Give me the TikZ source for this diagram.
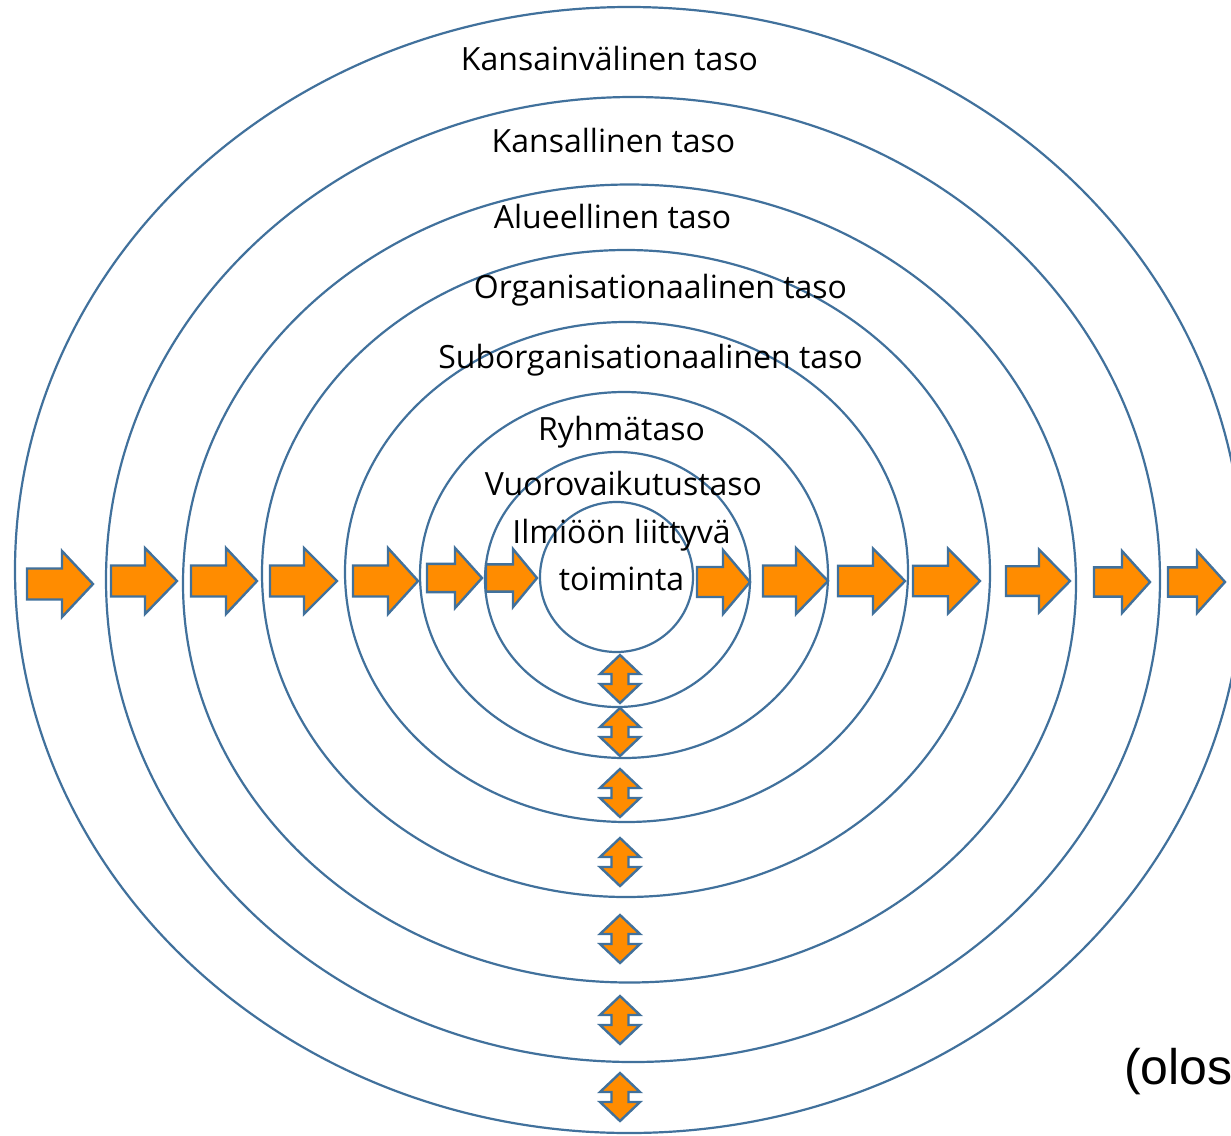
\documentclass[tikz,border=0pt]{standalone}
\usepackage{fontspec}
\setmainfont{Open Sans}
\newfontfamily\notefont{Liberation Sans}
\definecolor{ringblue}{HTML}{41719C}
\definecolor{arrorange}{HTML}{FF8C00}
\tikzset{
  ring/.style={draw=ringblue, line width=2.2pt},
  blockarr/.style={draw=ringblue, fill=arrorange, line width=2.4pt, line join=miter},
  lbl/.style={anchor=base, inner sep=0pt, font=\fontsize{32}{36}\selectfont}
}
\begin{document}
\begin{tikzpicture}[x=1pt,y=-1pt]
	\useasboundingbox[fill=white] (0,0) rectangle (1231,1135);
	% tasot sisimmasta uloimpaan
	\foreach \cx/\cy/\rx/\ry in {616.5/577/76.5/75, 617.5/579.5/132.5/127.5, 624/575/204/183,
	    626.5/572/281.5/250, 626/573.5/364/323.5, 629.5/583.5/446.5/399,
	    633/579.5/527/482.5, 629/570/614/563}
		\draw[ring] (\cx,\cy) ellipse [x radius=\rx pt, y radius=\ry pt];
	% vaakanuolet
	\foreach \a/\b/\c/\m/\h in {27/62/93/584/33, 111/145/177/581/33, 191/226/257/581/33,
	    270/304/337/581/33, 353/388/418/581/33, 427/455/482/578/30, 486/513/537/578/29,
	    697/723/750/582/32, 763/796/828/581/33, 838/873/905/581/32.5, 913/948/980/581/32.5,
	    1006/1039/1070/581/31.5, 1094/1122/1150/582/31, 1168/1197/1225/582/31}
		\draw[blockarr] (\a,{\m-0.47*\h}) -- (\b,{\m-0.47*\h}) -- (\b,{\m-\h}) -- (\c,\m)
			-- (\b,{\m+\h}) -- (\b,{\m+0.47*\h}) -- (\a,{\m+0.47*\h}) -- cycle;
	% pystysuuntaiset kaksoisnuolet
	\foreach \m in {679,732,793,862,939,1020,1097}
		\draw[blockarr] (620,\m-24) -- (640,\m-5) -- (628.5,\m-5) -- (628.5,\m+5) -- (640,\m+5)
			-- (620,\m+24) -- (600,\m+5) -- (611.5,\m+5) -- (611.5,\m-5) -- (600,\m-5) -- cycle;
	% tekstit
	\node[lbl] (kansainv) at (609.5,70) {Kansainvälinen taso};
	\node[lbl] (kansall) at (613.5,152) {Kansallinen taso};
	\node[lbl] (alue) at (612.5,228) {Alueellinen taso};
	\node[lbl] (organ) at (660.5,298) {Organisationaalinen taso};
	\node[lbl] (suborg) at (650.5,368) {Suborganisationaalinen taso};
	\node[lbl] (ryhma) at (621.5,440) {Ryhmätaso};
	\node[lbl] (vuoro) at (623.5,495) {Vuorovaikutustaso};
	\node[lbl] (ilmio) at (621.5,543) {Ilmiöön liittyvä};
	\node[lbl] (toim) at (621.5,590) {toiminta};
	\node[anchor=base west, inner sep=0pt, font=\notefont\fontsize{50}{54}\selectfont] (olos) at (1124,1084) {(olos};
\end{tikzpicture}
\end{document}
